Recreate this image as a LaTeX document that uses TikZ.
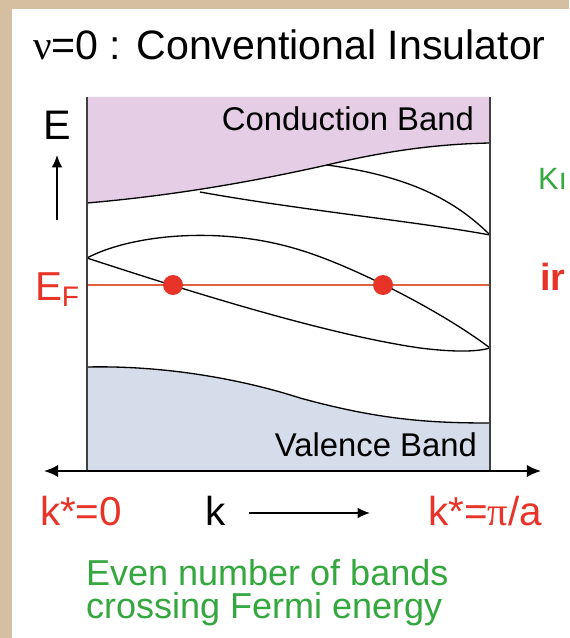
\documentclass[tikz,border=0pt]{standalone}
\usepackage{fontspec}
\setmainfont{Liberation Sans}
\newfontfamily\greekfont{Liberation Serif}
\usepackage{tikz}
\usetikzlibrary{arrows.meta,positioning}
\definecolor{paper}{RGB}{212,192,160}
\definecolor{condpink}{RGB}{229,205,229}
\definecolor{valblue}{RGB}{214,221,234}
\definecolor{bandred}{RGB}{232,52,40}
\definecolor{fermiorange}{RGB}{222,96,60}
\definecolor{notegreen}{RGB}{52,168,62}
\tikzset{%
  txt/.style={inner sep=0pt,outer sep=0pt},
  bandline/.style={draw=black, line width=0.75pt},
  frameline/.style={draw=black!75, line width=0.9pt},
  arrow/.style={-{Latex[length=7pt,width=6pt]}, line width=0.8pt}%
}

\begin{document}
\begin{tikzpicture}[
    x=0.02cm, y=-0.02cm,
    dot/.style={circle, fill=bandred, inner sep=0pt, minimum size=0.4cm}
]

% Background
\fill[paper] (0,0) rectangle (569,638);
\fill[white] (12,9) rectangle (569,638);
\useasboundingbox (0,0) rectangle (569,638);

% Band fills
\fill[condpink] (87,97) -- (87,203) .. controls (180,195) and (260,180) .. (327,165)
  .. controls (390,150) and (440,144) .. (490,143) -- (490,97) -- cycle;
\fill[valblue] (87,470) -- (87,367) .. controls (180,365) and (260,385) .. (300,398)
  .. controls (380,420) and (430,423) .. (490,423) -- (490,470) -- cycle;

% Band edges
\draw[bandline] (87,203) .. controls (180,195) and (260,180) .. (327,165)
  .. controls (390,150) and (440,144) .. (490,143);
\draw[bandline] (87,367) .. controls (180,365) and (260,385) .. (300,398)
  .. controls (380,420) and (430,423) .. (490,423);
\draw[bandline] (200,192) .. controls (300,210) and (420,222) .. (490,235);
\draw[bandline] (327,165) .. controls (400,175) and (450,195) .. (490,235);
\draw[bandline] (87,258) .. controls (130,235) and (220,225) .. (300,250)
  .. controls (350,265) and (440,310) .. (490,348);
\draw[bandline] (87,258) .. controls (200,295) and (330,335) .. (420,348)
  .. controls (460,353) and (480,351) .. (490,348);

% Fermi level
\coordinate (fleft) at (87,285);
\coordinate (fright) at (490,285);
\draw[fermiorange, line width=0.7pt] (fleft) -- (fright);
\node[dot] (cross1) at (173,285) {};
\node[dot] (cross2) at (383,285) {};

% Frame
\draw[frameline] (87,97) -- (87,470);
\draw[frameline] (490,97) -- (490,470);

% Axes
\coordinate (kmin) at (44,471);
\coordinate (kmax) at (541,471);
\draw[{Latex[length=8pt,width=7pt]}-{Latex[length=8pt,width=7pt]}, line width=1.1pt] (kmin) -- (kmax);
\coordinate (etail) at (57,220);
\coordinate (ehead) at (57,155);
\draw[arrow] (etail) -- (ehead);
\coordinate (ktail) at (249,513);
\coordinate (khead) at (370,513);
\draw[arrow] (ktail) -- (khead);

% Labels
\node[txt, anchor=base west, font=\fontsize{23.4}{28}\selectfont] (title) at (33,60)
  {{\greekfont ν}=0 : Conventional Insulator};
\node[txt, anchor=base east, font=\fontsize{18.7}{22}\selectfont] (cband) at (474,131) {Conduction Band};
\node[txt, anchor=base east, font=\fontsize{18.7}{22}\selectfont] (vband) at (477,456) {Valence Band};
\node[txt, anchor=base west, font=\fontsize{23.5}{28}\selectfont] (elabel) at (43,140) {E};
\node[txt, anchor=base west, text=bandred, font=\fontsize{23}{26}\selectfont] (eflabel) at (35,300)
  {E\textsubscript{F}};
\node[txt, anchor=base west, text=bandred, font=\fontsize{23}{28}\selectfont] (kzero) at (40,525) {k*=0};
\node[txt, anchor=base west, font=\fontsize{23}{28}\selectfont] (klabel) at (205,525) {k};
\node[txt, anchor=base east, text=bandred, font=\fontsize{23}{28}\selectfont] (kedge) at (542,525)
  {k*={\greekfont π}/a};
\node[txt, anchor=base west, align=left, text=notegreen, font=\fontsize{20.5}{18.7}\selectfont] (note) at (86,618)
  {Even number of bands\\crossing Fermi energy};
\node[txt, anchor=base west, text=notegreen, font=\fontsize{17.5}{21}\selectfont] (kr) at (538,190) {Kı};
\node[txt, anchor=base west, text=bandred, font=\bfseries\fontsize{21.5}{24}\selectfont] (ir) at (540,290) {ir};

\end{tikzpicture}
\end{document}
